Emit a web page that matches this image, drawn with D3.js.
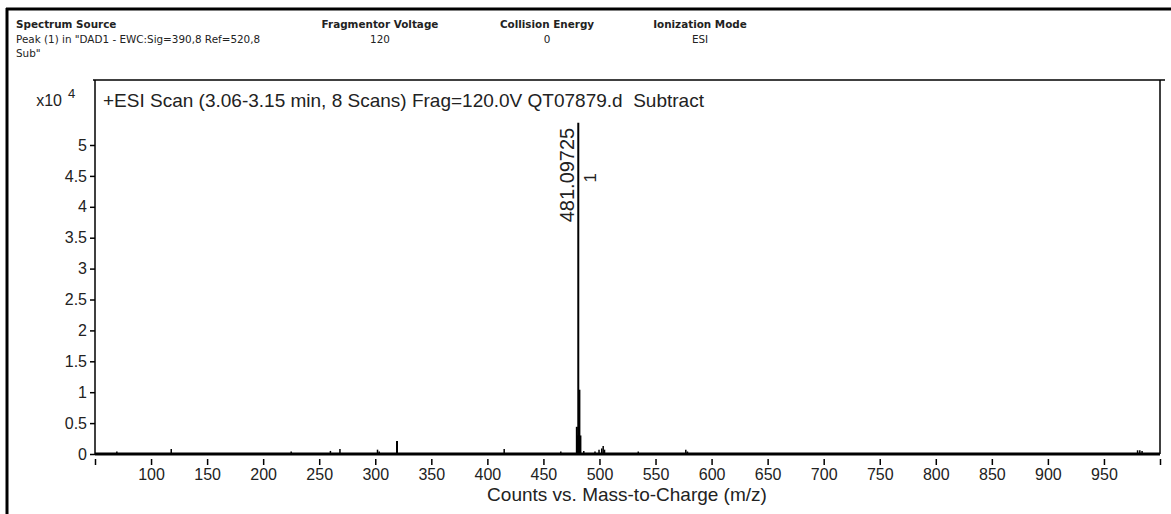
<!DOCTYPE html>
<html><head><meta charset="utf-8">
<script src="https://cdn.jsdelivr.net/npm/d3@7"></script>
<style>
body{margin:0;background:#fff;}
svg{display:block;}
</style></head>
<body>
<svg id="chart" width="1171" height="514"></svg>
<script>
// Data (intensity in units of 10^4 counts)
const mz =        [69.5, 118, 225, 260, 268.5, 302, 303.5, 319.4, 415, 465.5, 479.8, 480.3, 481.09725, 482.1, 483, 486, 496, 499.6, 502, 503.3, 504.5, 534.6, 577, 578.5, 980, 982, 984];
const intensity = [0.04, 0.08, 0.04, 0.05, 0.08, 0.07, 0.04, 0.21, 0.08, 0.04, 0.44, 0.30, 5.36, 1.04, 0.30, 0.05, 0.04, 0.07, 0.09, 0.13, 0.07, 0.04, 0.07, 0.04, 0.06, 0.06, 0.05];
const xTicks = [50,100,150,200,250,300,350,400,450,500,550,600,650,700,750,800,850,900,950,1000];
const xTickLabels = ["","100","150","200","250","300","350","400","450","500","550","600","650","700","750","800","850","900","950",""];
const yTicks = [0,0.5,1,1.5,2,2.5,3,3.5,4,4.5,5];
const yTickLabels = ["0","0.5","1","1.5","2","2.5","3","3.5","4","4.5","5"];
const peakLabel = {mz: 481.09725, text: "481.09725", rank: "1"};
const headers = [
  {title: "Fragmentor Voltage", value: "120"},
  {title: "Collision Energy", value: "0"},
  {title: "Ionization Mode", value: "ESI"}
];
const sourceLines = ["Peak (1) in \"DAD1 - EWC:Sig=390,8 Ref=520,8", "Sub\""];
const titleText = "+ESI Scan (3.06-3.15 min, 8 Scans) Frag=120.0V QT07879.d  Subtract";
const xTitle = "Counts vs. Mass-to-Charge (m/z)";

const svg = d3.select("#chart");
const L = 95, R = 1160, T = 80, B = 454;
const x = d3.scaleLinear().domain([50, 1000]).range([L, R]);
const y = d3.scaleLinear().domain([0, 5]).range([B, B - 5 * 61.8]);
const txt = "#222";
const font = "Liberation Sans, Arial, sans-serif";
const hfont = "DejaVu Sans, Verdana, sans-serif";
const hsize = 10.4;

// Outer frame
svg.append("line").attr("x1",6).attr("x2",1171).attr("y1",9).attr("y2",9).attr("stroke","#000").attr("stroke-width",3);
svg.append("line").attr("x1",7).attr("x2",7).attr("y1",8).attr("y2",514).attr("stroke","#000").attr("stroke-width",3);

// Header block
const hg = svg.append("g").attr("font-family", hfont).attr("fill", txt);
hg.append("text").attr("x",16).attr("y",28).attr("font-size",hsize).attr("font-weight","bold").text("Spectrum Source");
sourceLines.forEach((s,i)=> hg.append("text").attr("x",16).attr("y",43 + i*14).attr("font-size",hsize).text(s));
const hx = [380, 547, 700];
headers.forEach((h,i)=>{
  hg.append("text").attr("x",hx[i]).attr("y",28).attr("text-anchor","middle").attr("font-size",hsize).attr("font-weight","bold").text(h.title);
  hg.append("text").attr("x",hx[i]).attr("y",43).attr("text-anchor","middle").attr("font-size",hsize).text(h.value);
});

// Plot frame (top and right)
svg.append("line").attr("x1",L-2).attr("x2",1165).attr("y1",T).attr("y2",T).attr("stroke","#000").attr("stroke-width",1.5);
svg.append("line").attr("x1",R).attr("x2",R).attr("y1",T).attr("y2",B).attr("stroke","#000").attr("stroke-width",1.5);

// Y axis
const yAxis = d3.axisLeft(y).tickValues(yTicks).tickSize(5).tickPadding(3).tickFormat((d,i)=>yTickLabels[i]);
const yg = svg.append("g").attr("transform",`translate(${L},0)`).call(yAxis);
yg.select(".domain").remove();
yg.selectAll(".tick line").attr("stroke","#000").attr("stroke-width",1.5);
yg.selectAll(".tick text").attr("font-family",font).attr("font-size",16).attr("fill",txt);
svg.append("line").attr("x1",L).attr("x2",L).attr("y1",T).attr("y2",B).attr("stroke","#000").attr("stroke-width",1.5);

// x10^4
svg.append("text").attr("x",62).attr("y",106).attr("text-anchor","end").attr("font-family",font).attr("font-size",16).attr("fill",txt).text("x10");
svg.append("text").attr("x",68).attr("y",98).attr("font-family",font).attr("font-size",13).attr("fill",txt).text("4");

// X axis
const xAxis = d3.axisBottom(x).tickValues(xTicks).tickSize(6).tickPadding(4).tickFormat((d,i)=>xTickLabels[i]);
const xg = svg.append("g").attr("transform",`translate(0,${B+5})`).call(xAxis);
xg.select(".domain").remove();
xg.selectAll(".tick line").attr("stroke","#000").attr("stroke-width",1.5);
xg.selectAll(".tick text").attr("font-family",font).attr("font-size",16).attr("fill",txt);

// Peaks
svg.append("g").selectAll("line").data(mz).join("line")
  .attr("x1",d=>x(d)).attr("x2",d=>x(d))
  .attr("y1",y(0)).attr("y2",(d,i)=>y(intensity[i]))
  .attr("stroke","#000").attr("stroke-width",(d,i)=>intensity[i]>0.2?2:1.5);

// Baseline
svg.append("line").attr("x1",L).attr("x2",R).attr("y1",B).attr("y2",B).attr("stroke","#000").attr("stroke-width",3);

// Peak annotation
const px = x(peakLabel.mz);
const pi = mz.indexOf(peakLabel.mz);
svg.append("text").attr("transform",`translate(${px-4},${y(intensity[pi])+5}) rotate(-90)`)
  .attr("text-anchor","end").attr("font-family",font).attr("font-size",20).attr("fill",txt).text(peakLabel.text);
svg.append("text").attr("transform",`translate(${px+18},${y(intensity[pi])+55}) rotate(-90)`)
  .attr("text-anchor","middle").attr("font-family",font).attr("font-size",17).attr("fill",txt).text(peakLabel.rank);

// Title
svg.append("text").attr("x",103).attr("y",107).attr("font-family",font).attr("font-size",19)
  .style("white-space","pre").attr("fill",txt).text(titleText);

// X axis title
svg.append("text").attr("x",627).attr("y",501).attr("text-anchor","middle").attr("font-family",font).attr("font-size",19).attr("fill",txt).text(xTitle);
</script>
</body></html>
